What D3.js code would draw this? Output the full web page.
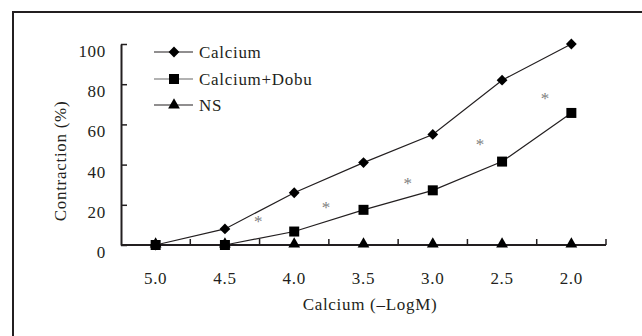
<!DOCTYPE html>
<html>
<head>
<meta charset="utf-8">
<script src="https://cdn.jsdelivr.net/npm/d3@7"></script>
<style>
  body { margin: 0; background: #fff; }
  svg text { font-family: "Liberation Serif", "Times New Roman", Times, serif; fill: #231f20; }
</style>
</head>
<body>
<div id="chart"></div>
<script>
// data
var categories = ["5.0", "4.5", "4.0", "3.5", "3.0", "2.5", "2.0"];
var calcium = [0, 8, 26, 41, 55, 82, 100];
var calciumDobu = [0, 0, 6.7, 17.5, 27.2, 41.5, 65.7];
var ns = [0, 0, 0, 0, 0, 0, 0];
var yTicks = [0, 20, 40, 60, 80, 100];
// asterisks: position in category units and value
var starPos = [1.48, 2.46, 3.64, 4.68, 5.62];
var starVal = [12.8, 20, 32, 51, 74];

var W = 642, H = 336;
var ink = "#231f20";

var svg = d3.select("#chart")
    .append("svg")
    .attr("width", W)
    .attr("height", H);

// outer frame (runs off the right and bottom edge)
svg.append("rect")
    .attr("x", 13).attr("y", 12)
    .attr("width", 700).attr("height", 400)
    .attr("fill", "none")
    .attr("stroke", ink)
    .attr("stroke-width", 2);

var x = d3.scaleBand()
    .domain(categories)
    .range([121, 606])
    .padding(0);

var y = d3.scaleLinear()
    .domain([0, 100])
    .range([245, 44]);

// index -> pixel, for the asterisks between categories
var xi = d3.scaleLinear()
    .domain([0, categories.length - 1])
    .range([x(categories[0]) + x.bandwidth() / 2, x(categories[categories.length - 1]) + x.bandwidth() / 2]);

// Y axis
var yAxis = svg.append("g")
    .attr("transform", "translate(121,0)")
    .call(d3.axisRight(y).tickValues(yTicks).tickSize(6).tickSizeOuter(0).tickFormat(""));
yAxis.select(".domain").attr("stroke", ink).attr("stroke-width", 2);
yAxis.selectAll(".tick line").attr("stroke", ink).attr("stroke-width", 1.5);

svg.selectAll("ylab")
    .data(yTicks)
    .enter()
    .append("text")
    .attr("x", 106)
    .attr("y", function (d) { return y(d) + 13; })
    .attr("text-anchor", "end")
    .style("font-size", "17px")
    .style("letter-spacing", "0.7px")
    .text(function (d) { return d; });

// X axis: ticks between categories, pointing up
var bounds = categories.map(function (c) { return x(c) + x.bandwidth(); });
var xAxis = svg.append("g")
    .attr("transform", "translate(0,245)");
xAxis.append("line")
    .attr("x1", 121).attr("x2", 606)
    .attr("stroke", ink).attr("stroke-width", 2);
xAxis.selectAll("tk")
    .data(bounds)
    .enter()
    .append("line")
    .attr("x1", function (d) { return d; })
    .attr("x2", function (d) { return d; })
    .attr("y1", 0).attr("y2", -6)
    .attr("stroke", ink).attr("stroke-width", 1.5);

svg.selectAll("xlab")
    .data(categories)
    .enter()
    .append("text")
    .attr("x", function (d) { return x(d) + x.bandwidth() / 2; })
    .attr("y", 284)
    .attr("text-anchor", "middle")
    .style("font-size", "17px")
    .style("letter-spacing", "0.7px")
    .text(function (d) { return d; });

// axis titles
svg.append("text")
    .attr("x", 370)
    .attr("y", 310)
    .attr("text-anchor", "middle")
    .style("font-size", "17px")
    .style("letter-spacing", "0.7px")
    .text("Calcium (\u2013LogM)");

svg.append("text")
    .attr("transform", "translate(66,161) rotate(-90)")
    .attr("text-anchor", "middle")
    .style("font-size", "17px")
    .style("letter-spacing", "0.7px")
    .text("Contraction (%)");

// series; the diamond is a square turned 45 degrees
var series = [
    { name: "Calcium", values: calcium, shape: d3.symbolSquare, size: 58, rot: 45, legendStroke: ink },
    { name: "Calcium+Dobu", values: calciumDobu, shape: d3.symbolSquare, size: 100, rot: 0, legendStroke: "#666" },
    { name: "NS", values: ns, shape: d3.symbolTriangle, size: 60, rot: 0, legendStroke: ink }
];

var line = d3.line()
    .x(function (d, i) { return x(categories[i]) + x.bandwidth() / 2; })
    .y(function (d) { return y(d); });

// draw NS first so the squares sit on top at 5.0 / 4.5
series.slice().reverse().forEach(function (s) {
    svg.append("path")
        .datum(s.values)
        .attr("d", line)
        .attr("fill", "none")
        .attr("stroke", ink)
        .attr("stroke-width", 1.2);
    svg.selectAll(null)
        .data(s.values)
        .enter()
        .append("path")
        .attr("transform", function (d, i) {
            var dy = s.shape === d3.symbolTriangle ? -1 : 0;
            return "translate(" + (x(categories[i]) + x.bandwidth() / 2) + "," + (y(d) + dy) + ") rotate(" + s.rot + ")";
        })
        .attr("d", d3.symbol().type(s.shape).size(s.size))
        .attr("fill", "#000");
});

// significance asterisks
svg.selectAll("stars")
    .data(starPos)
    .enter()
    .append("text")
    .attr("x", function (d) { return xi(d); })
    .attr("y", function (d, i) { return y(starVal[i]) + 8; })
    .attr("text-anchor", "middle")
    .style("font-size", "17px")
    .style("fill", "#808080")
    .text("*");

// legend
var legend = svg.selectAll("leg")
    .data(series)
    .enter()
    .append("g")
    .attr("transform", function (d, i) { return "translate(0," + [52, 79, 105][i] + ")"; });
legend.append("line")
    .attr("x1", 154).attr("x2", 193)
    .attr("stroke", function (d) { return d.legendStroke; })
    .attr("stroke-width", 1.2);
legend.append("path")
    .attr("transform", function (d) { return "translate(174,0) rotate(" + d.rot + ")"; })
    .attr("d", function (d) { return d3.symbol().type(d.shape).size(d.size)(); })
    .attr("fill", "#000");
legend.append("text")
    .attr("x", 199)
    .attr("y", 6)
    .style("font-size", "17px")
    .style("letter-spacing", "0.7px")
    .text(function (d) { return d.name; });
</script>
</body>
</html>
